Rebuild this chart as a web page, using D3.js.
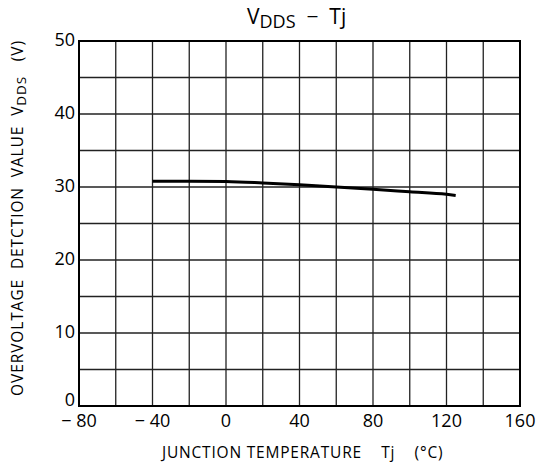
<!DOCTYPE html>
<html><head><meta charset="utf-8">
<script src="https://cdn.jsdelivr.net/npm/d3@7"></script>
<style>body{margin:0;background:#fff}svg{display:block}text{font-family:"Open Sans","DejaVu Sans",sans-serif;fill:#000}</style>
</head><body><svg id="c" width="536" height="468"></svg>
<script>
const temps = [-40, -20, 0, 20, 40, 60, 80, 100, 120, 125];
const vdds = [30.8, 30.8, 30.75, 30.55, 30.3, 30.0, 29.7, 29.35, 29.0, 28.85];
const xTicks = [-80, -40, 0, 40, 80, 120, 160];
const yTicks = [0, 10, 20, 30, 40, 50];

const svg = d3.select("#c");
const x = d3.scaleLinear().domain([-80, 160]).range([79, 520]);
const y = d3.scaleLinear().domain([0, 50]).range([406, 41]);

const g = svg.append("g");
// grid
d3.range(-60, 160, 20).forEach(v => g.append("line").attr("x1", x(v)).attr("x2", x(v)).attr("y1", y(0)).attr("y2", y(50)).attr("stroke", "#222").attr("stroke-width", 1.3));
d3.range(5, 50, 5).forEach(v => g.append("line").attr("x1", x(-80)).attr("x2", x(160)).attr("y1", y(v)).attr("y2", y(v)).attr("stroke", "#222").attr("stroke-width", 1.3));
g.append("rect").attr("x", x(-80)).attr("y", y(50)).attr("width", x(160) - x(-80)).attr("height", y(0) - y(50)).attr("fill", "none").attr("stroke", "#000").attr("stroke-width", 2);

// tick labels
xTicks.forEach(v => g.append("text").attr("x", x(v)).attr("y", 427).attr("text-anchor", "middle").attr("font-size", 18).text(v < 0 ? "\u2212 " + (-v) : v));
yTicks.forEach(v => g.append("text").attr("x", 75).attr("y", v === 0 ? y(v) : y(v) + 5).attr("text-anchor", "end").attr("font-size", 18).text(v));

// curve
const line = d3.line().x((d, i) => x(temps[i])).y(d => y(d)).curve(d3.curveMonotoneX);
g.append("path").datum(vdds).attr("d", line).attr("fill", "none").attr("stroke", "#000").attr("stroke-width", 3);

// title
const t = svg.append("text").attr("x", 247).attr("y", 24).attr("font-size", 21).style("white-space", "pre");
t.append("tspan").text("V");
t.append("tspan").attr("font-size", 18).attr("dy", 4).text("DDS");
t.append("tspan").attr("dy", -4).text("  \u2212  Tj");

// x label
svg.append("text").attr("x", 162).attr("y", 458).attr("font-size", 15.5).attr("letter-spacing", 0.8).style("white-space", "pre").text("JUNCTION TEMPERATURE    Tj    (\u00B0C)");

// y label
const yl = svg.append("text").attr("transform", "translate(23,218) rotate(-90)").attr("text-anchor", "middle").attr("font-size", 15.5).attr("letter-spacing", 0.9).style("white-space", "pre");
yl.append("tspan").text("OVERVOLTAGE  DETCTION  VALUE  V");
yl.append("tspan").attr("font-size", 13.5).attr("dy", 3).text("DDS");
yl.append("tspan").attr("dy", -3).text("   (V)");
</script></body></html>
